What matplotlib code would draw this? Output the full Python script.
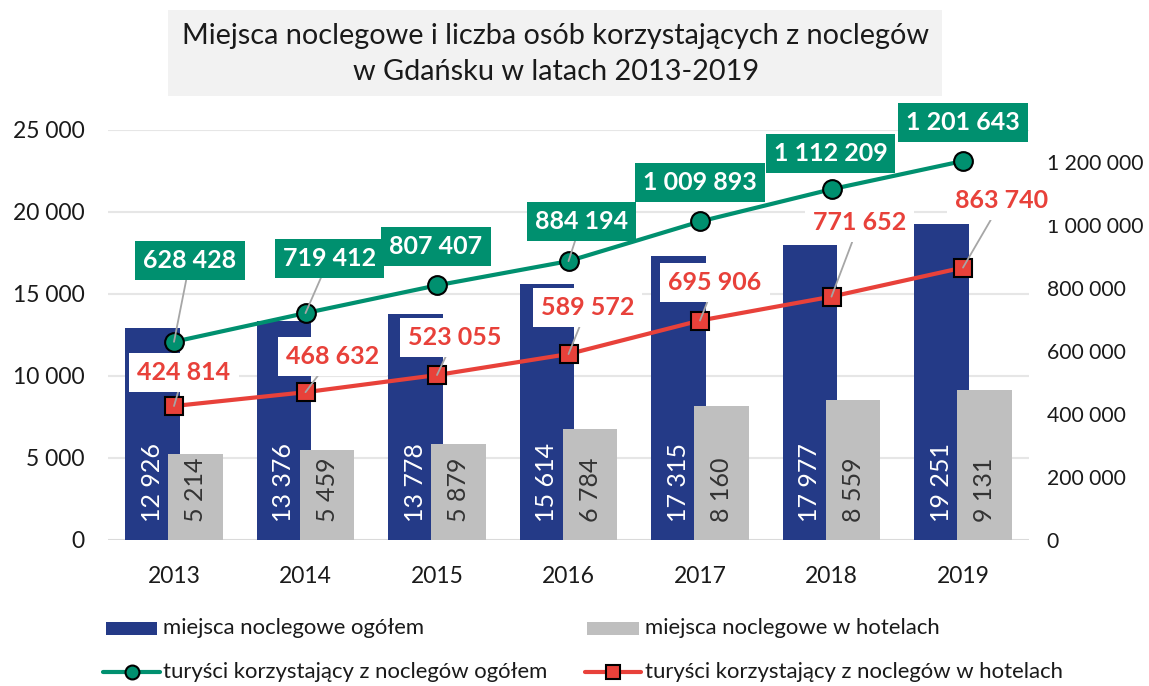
import matplotlib
matplotlib.use("Agg")
import matplotlib.pyplot as plt
from matplotlib.patches import Rectangle
from matplotlib.lines import Line2D
import numpy as np

# ---------------- data ----------------
years = ["2013", "2014", "2015", "2016", "2017", "2018", "2019"]
beds_total = [12926, 13376, 13778, 15614, 17315, 17977, 19251]
beds_hotels = [5214, 5459, 5879, 6784, 8160, 8559, 9131]
tourists_total = [628428, 719412, 807407, 884194, 1009893, 1112209, 1201643]
tourists_hotels = [424814, 468632, 523055, 589572, 695906, 771652, 863740]

left_ticks = [0, 5000, 10000, 15000, 20000, 25000]
right_ticks = [0, 200000, 400000, 600000, 800000, 1000000, 1200000]

legend_labels = ["miejsca noclegowe ogółem", "miejsca noclegowe w hotelach",
                 "turyści korzystający z noclegów ogółem",
                 "turyści korzystający z noclegów w hotelach"]
title = "Miejsca noclegowe i liczba osób korzystających z noclegów\nw Gdańsku w latach 2013-2019"

# ---------------- style ----------------
BLUE = "#243A87"
GRAY = "#BFBFBF"
GREEN = "#00906F"
RED = "#E8413A"
FONT = "Lato"
plt.rcParams["font.family"] = [FONT, "DejaVu Sans"]

W, H = 1149, 686
fig = plt.figure(figsize=(W / 100, H / 100), dpi=100)


def fx(px):
    return px / W


def fy(py):
    return 1 - py / H


ax_l, ax_r, ax_t, ax_b = 108.25, 1028.75, 130, 540
ax = fig.add_axes([fx(ax_l), fy(ax_b), fx(ax_r - ax_l), (ax_b - ax_t) / H])
ax2 = ax.twinx()

def fmt(v):
    return f"{v:,}".replace(",", " ")

x = np.arange(len(years))
bw = 0.418
off = 0.1635
b1 = ax.bar(x - off, beds_total, bw, color=BLUE, zorder=2)
b2 = ax.bar(x + off, beds_hotels, bw, color=GRAY, zorder=3)

for xi, v in zip(x, beds_total):
    ax.annotate(fmt(v), (xi - off, 0), xytext=(0, 18), textcoords="offset pixels",
                rotation=90, ha="center", va="bottom", color="white",
                fontsize=18, zorder=4)
for xi, v in zip(x, beds_hotels):
    ax.annotate(fmt(v), (xi + off, 0), xytext=(0, 18), textcoords="offset pixels",
                rotation=90, ha="center", va="bottom", color="#333333",
                fontsize=18, zorder=4)

ax.set_xlim(-0.5, len(years) - 0.5)
ax.set_ylim(0, 25000)
ax.set_yticks(left_ticks)
ax.set_yticklabels([fmt(t) for t in left_ticks])
ax.set_xticks(x)
ax.set_xticklabels(years)
ax.grid(axis="y", color="#E6E6E6", linewidth=1.5, zorder=0)
ax.set_axisbelow(True)
ax.axhline(0, color="#D9D9D9", linewidth=2, zorder=1)
for s in ax.spines.values():
    s.set_visible(False)
ax.tick_params(axis="both", length=0, labelsize=16.5, colors="#1a1a1a")
ax.tick_params(axis="y", pad=17)
ax.tick_params(axis="x", pad=19)

ax2.set_ylim(0, 1300000)
ax2.set_yticks(right_ticks)
ax2.set_yticklabels([fmt(t) for t in right_ticks])
for s in ax2.spines.values():
    s.set_visible(False)
ax2.tick_params(axis="y", length=0, labelsize=15.2, colors="#1a1a1a", pad=13)

ax2.plot(x, tourists_total, color=GREEN, lw=3, marker="o", ms=13.5,
         mfc=GREEN, mec="black", mew=1.5, zorder=3)
ax2.plot(x, tourists_hotels, color=RED, lw=3, marker="s", ms=12.5,
         mfc=RED, mec="black", mew=1.5, zorder=3)

# label offsets (pixels) and leader flags
g_off = [(16, -81), (24, -55), (-1, -39), (13, -40), (0, -39), (-1, -36), (0, -39)]
g_lead = [True, True, False, True, False, False, False]
r_off = [(10, -34), (27, -36), (18, -38), (19, -47), (15, -38), (28, -74), (39, -67)]
r_lead = [True, True, True, True, True, True, True]

lead = dict(arrowstyle="-", color="#A6A6A6", lw=1.3, shrinkA=0, shrinkB=0)
for xi, v, o, l in zip(x, tourists_total, g_off, g_lead):
    ax2.annotate(fmt(v), (xi, v), xytext=(o[0], -o[1]), textcoords="offset pixels",
                 ha="center", va="center", color="white", fontsize=18,
                 fontweight="bold", zorder=6,
                 bbox=dict(boxstyle="square,pad=0.32", fc=GREEN, ec="none"),
                 arrowprops=lead if l else None)
for xi, v, o, l in zip(x, tourists_hotels, r_off, r_lead):
    ax2.annotate(fmt(v), (xi, v), xytext=(o[0], -o[1]), textcoords="offset pixels",
                 ha="center", va="center", color=RED, fontsize=18,
                 fontweight="bold", zorder=6,
                 bbox=dict(boxstyle="square,pad=0.32", fc="white", ec="none"),
                 arrowprops=lead if l else None)

# title box
fig.add_artist(Rectangle((fx(168), fy(96)), fx(942 - 168), (96 - 10) / H,
                         transform=fig.transFigure, fc="#F2F2F2", ec="none", zorder=0))
fig.text(fx(556), fy(54), title, ha="center", va="center", fontsize=20.8,
         color="#1a1a1a", linespacing=1.45)

# legend (manual)
ly1, ly2 = 628, 672
fs_leg = 15.9
fig.add_artist(Rectangle((fx(106), fy(635)), fx(51), 13 / H, transform=fig.transFigure,
                         fc=BLUE, ec="none"))
fig.text(fx(163), fy(ly1), legend_labels[0], ha="left", va="center", fontsize=fs_leg, color="#1a1a1a")
fig.add_artist(Rectangle((fx(587), fy(635)), fx(52), 13 / H, transform=fig.transFigure,
                         fc=GRAY, ec="none"))
fig.text(fx(645), fy(ly1), legend_labels[1], ha="left", va="center", fontsize=fs_leg, color="#1a1a1a")

fig.add_artist(Line2D([fx(103), fx(160)], [fy(ly2), fy(ly2)], transform=fig.transFigure,
                      color=GREEN, lw=3, solid_capstyle="round"))
fig.add_artist(Line2D([fx(131.5)], [fy(ly2)], transform=fig.transFigure, marker="o",
                      ms=10, mfc=GREEN, mec="black", mew=1.5, lw=0))
fig.text(fx(163), fy(ly2), legend_labels[2], ha="left", va="center", fontsize=fs_leg, color="#1a1a1a")
fig.add_artist(Line2D([fx(585), fx(641)], [fy(ly2), fy(ly2)], transform=fig.transFigure,
                      color=RED, lw=3, solid_capstyle="round"))
fig.add_artist(Line2D([fx(613)], [fy(ly2)], transform=fig.transFigure, marker="s",
                      ms=9.5, mfc=RED, mec="black", mew=1.5, lw=0))
fig.text(fx(645), fy(ly2), legend_labels[3], ha="left", va="center", fontsize=fs_leg, color="#1a1a1a")

fig.savefig("out.png", dpi=100)
